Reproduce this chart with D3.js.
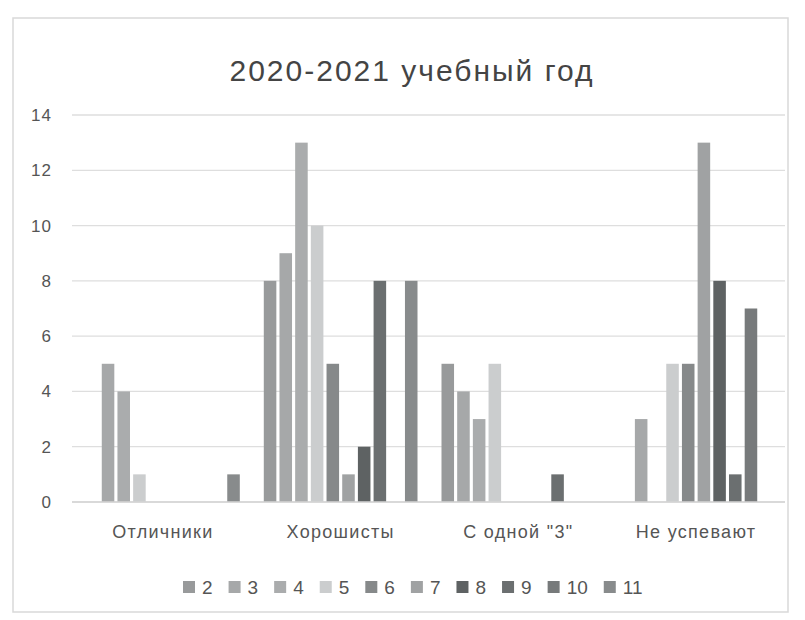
<!DOCTYPE html>
<html><head><meta charset="utf-8">
<script src="https://cdn.jsdelivr.net/npm/d3@7"></script>
<style>body{margin:0;background:#fff;} svg{display:block;}</style>
</head><body>
<svg id="c" width="805" height="620"></svg>
<script>
const categories = ["Отличники", "Хорошисты", "С одной \"3\"", "Не успевают"];
const seriesNames = ["2", "3", "4", "5", "6", "7", "8", "9", "10", "11"];
const s2  = [0, 8, 5, 0];
const s3  = [5, 9, 4, 3];
const s4  = [4, 13, 3, 0];
const s5  = [1, 10, 5, 5];
const s6  = [0, 5, 0, 5];
const s7  = [0, 1, 0, 13];
const s8  = [0, 2, 0, 8];
const s9  = [0, 8, 1, 1];
const s10 = [0, 0, 0, 7];
const s11 = [1, 8, 0, 0];
const yTicks = [0, 2, 4, 6, 8, 10, 12, 14];
const title = "2020-2021 учебный год";

const seriesValues = [s2, s3, s4, s5, s6, s7, s8, s9, s10, s11];
const colors = ["#989a9b", "#a6a8a9", "#aaacad", "#cbcdce", "#86898a", "#a0a2a3", "#5e6263", "#6b6f70", "#777a7b", "#888b8c"];

const svg = d3.select("#c");
svg.append("rect").attr("x", 13).attr("y", 18).attr("width", 775).attr("height", 594)
  .attr("fill", "#fff").attr("stroke", "#d9d9d9").attr("stroke-width", 1.5);

const m = {left: 74, right: 785, top: 115, bottom: 502};
const x0 = d3.scaleBand().domain(categories).range([m.left, m.right]).paddingInner(0.135).paddingOuter(0.068);
const x1 = d3.scaleBand().domain(seriesNames).range([0, x0.bandwidth()]).paddingInner(0.2).paddingOuter(0);
const y = d3.scaleLinear().domain([0, 14]).range([m.bottom, m.top]);

const font = "'Liberation Sans', Arial, sans-serif";

// gridlines
svg.append("g").selectAll("line").data(yTicks).join("line")
  .attr("x1", m.left - 2).attr("x2", m.right)
  .attr("y1", d => y(d)).attr("y2", d => y(d))
  .attr("stroke", "#dedede").attr("stroke-width", 1.3);

// y axis labels
const yAxis = d3.axisLeft(y).tickValues(yTicks).tickSize(0).tickPadding(0);
const ya = svg.append("g").attr("transform", `translate(52,0)`).call(yAxis);
ya.select(".domain").remove();
ya.selectAll("text").attr("font-family", font).attr("font-size", 17).attr("letter-spacing", 1).attr("fill", "#555");

// bars
const groups = svg.append("g").selectAll("g").data(categories).join("g")
  .attr("transform", d => `translate(${x0(d)},0)`);
groups.selectAll("rect").data((c, ci) => seriesNames.map((s, si) => ({s, si, v: seriesValues[si][ci]})))
  .join("rect")
  .attr("x", d => x1(d.s)).attr("width", x1.bandwidth())
  .attr("y", d => y(d.v)).attr("height", d => y(0) - y(d.v))
  .attr("fill", d => colors[d.si]);

// x axis line
svg.append("line").attr("x1", m.left - 2).attr("x2", m.right).attr("y1", y(0)).attr("y2", y(0))
  .attr("stroke", "#d4d4d4").attr("stroke-width", 1.3);

// category labels
const xAxis = d3.axisBottom(x0).tickSize(0).tickPadding(0);
const xa = svg.append("g").attr("transform", `translate(0,${m.bottom + 30})`).call(xAxis);
xa.select(".domain").remove();
xa.selectAll("text").attr("font-family", font).attr("font-size", 18).attr("letter-spacing", 1.3)
  .attr("fill", "#555").attr("dy", "0.35em");

// title
svg.append("text").attr("x", 412).attr("y", 81).attr("text-anchor", "middle")
  .attr("font-family", font).attr("font-size", 30).attr("letter-spacing", 2).attr("fill", "#444").text(title);

// legend
const lg = svg.append("g").attr("transform", "translate(183,587)");
let lx = 0;
seriesNames.forEach((s, i) => {
  const g = lg.append("g").attr("transform", `translate(${lx},0)`);
  g.append("rect").attr("x", 0).attr("y", -6).attr("width", 12).attr("height", 12).attr("fill", colors[i]);
  const t = g.append("text").attr("x", 19).attr("y", 0).attr("dy", "0.35em")
    .attr("font-family", font).attr("font-size", 19).attr("fill", "#555").text(s);
  lx += 19 + t.node().getComputedTextLength() + 16;
});
</script>
</body></html>
